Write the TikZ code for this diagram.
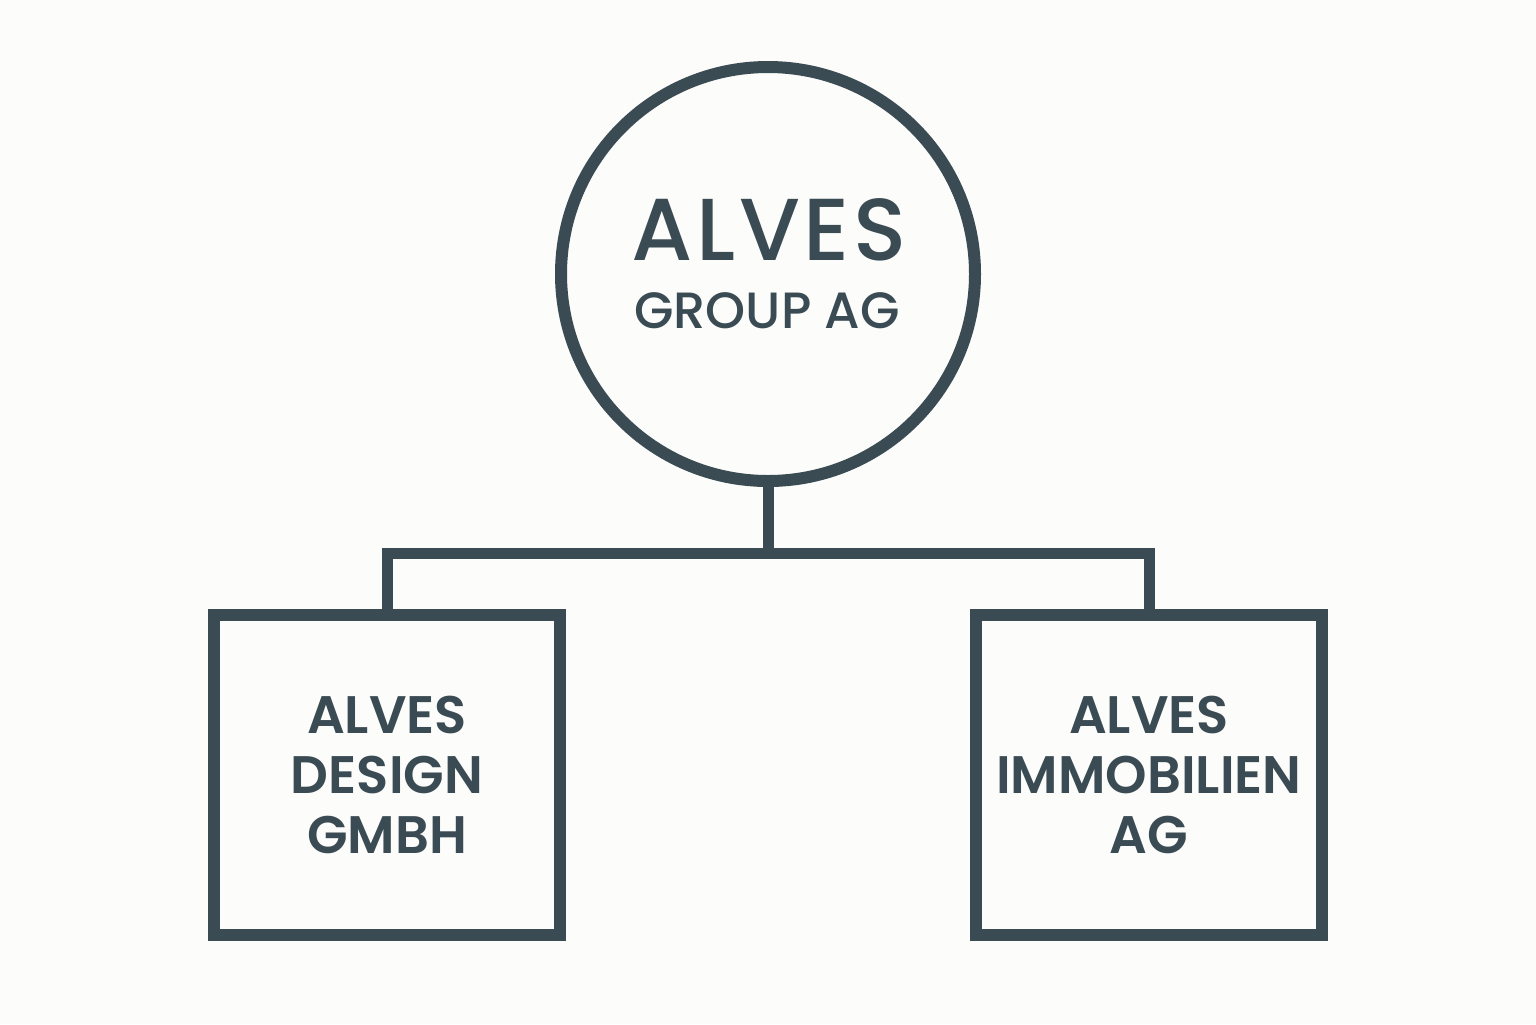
\documentclass[tikz,border=0pt]{standalone}
\usepackage{fontspec}
\setmainfont{Poppins}
\newfontfamily\headfont[LetterSpace=4]{Poppins Medium}
\newfontfamily\subfont{Poppins Medium}
\newfontfamily\unitfont{Poppins SemiBold}
\definecolor{slate}{HTML}{3A4B53}
\definecolor{paper}{HTML}{FCFCFA}
\tikzset{
  orgline/.style={draw=slate, line width=6pt},
  unitbox/.style={orgline, rectangle, minimum width=173pt, minimum height=160pt,
    align=center, text=slate, inner sep=0pt,
    font=\unitfont\fontsize{26.4}{30}\selectfont},
}
\newcommand{\lineGB}{(gC.south) -- (bar)}
\newcommand{\lineBD}{(bar) -| (uD.north)}
\newcommand{\lineBI}{(bar) -| (uI.north)}

\begin{document}
\begin{tikzpicture}[x=0.5pt, y=-0.5pt]
        \fill[paper] (0,0) rectangle (1536,1024);
        \useasboundingbox (0,0) rectangle (1536,1024);
        \node[orgline, circle, minimum size=207pt, inner sep=0pt] (gC) at (768, 274) {};
        \node[anchor=base, text=slate, font=\headfont\fontsize{44}{44}\selectfont] (gT) at (769, 260) {ALVES};
        \node[anchor=base, text=slate, font=\subfont\fontsize{25.5}{26}\selectfont] (gS) at (767, 328) {GROUP AG};
        \node[unitbox] (uD) at (387, 775) {ALVES\\DESIGN\\GMBH};
        \node[unitbox] (uI) at (1149, 775) {ALVES\\IMMOBILIEN\\AG};
        \coordinate (bar) at (768, 553);

        \draw[orgline, line width=5.5pt] \lineGB \lineBD \lineBI;

    \end{tikzpicture}
\end{document}
